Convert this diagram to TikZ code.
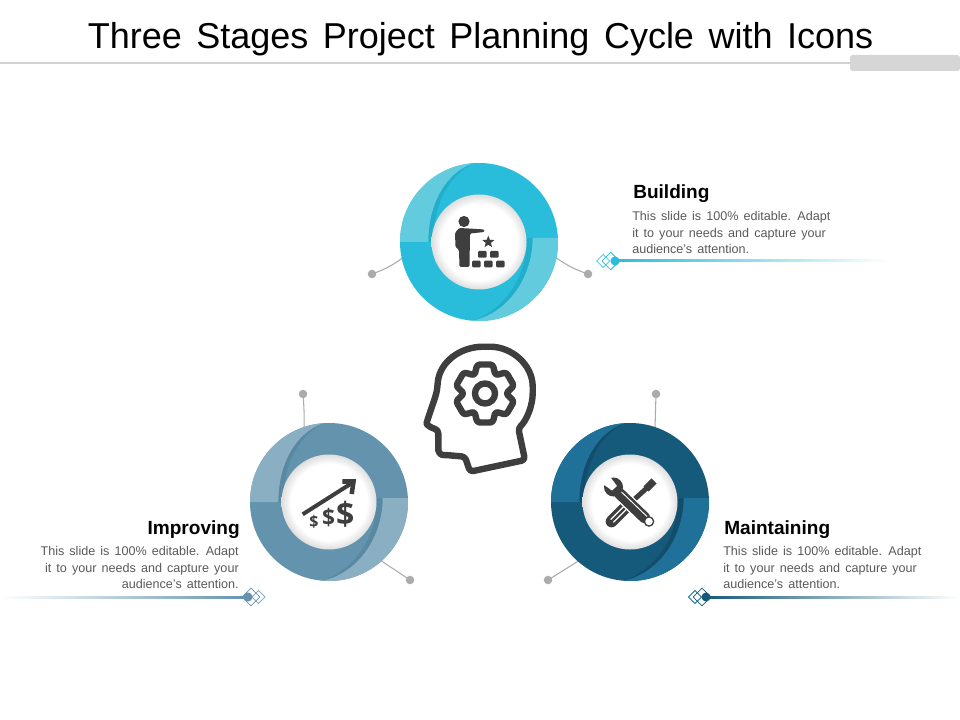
\documentclass[tikz,border=0pt]{standalone}
\usepackage{fontspec}
\setmainfont[WordSpace=1.45]{Liberation Sans}
\newfontfamily\dollarfont{Open Sans}
\usetikzlibrary{shapes.geometric}
\definecolor{buildmain}{RGB}{41,189,219}
\definecolor{buildlight}{RGB}{98,203,222}
\definecolor{buildshade}{RGB}{34,174,203}
\definecolor{improvemain}{RGB}{99,147,173}
\definecolor{improvelight}{RGB}{138,174,194}
\definecolor{improveshade}{RGB}{88,136,162}
\definecolor{maintainmain}{RGB}{22,90,123}
\definecolor{maintainlight}{RGB}{31,113,153}
\definecolor{maintainshade}{RGB}{18,78,108}
\definecolor{icongrey}{RGB}{62,62,62}
\definecolor{dotgrey}{RGB}{171,171,171}
\definecolor{bodygrey}{RGB}{89,89,89}
\pgfdeclareradialshading{hubshade}{\pgfpoint{0bp}{0bp}}{color(0bp)=(white); color(20bp)=(white); color(25bp)=(black!13); color(50bp)=(black!13)}
\tikzset{
  stagedot/.style={circle,fill=dotgrey,inner sep=0pt,minimum size=6.4pt},
  stageline/.style={draw=dotgrey,line width=0.8pt},
  stagehead/.style={font=\fontsize{14.3}{17}\selectfont\bfseries,text=black,inner sep=0pt},
  stagebody/.style={font=\fontsize{9.45}{12.2}\selectfont,text=bodygrey,inner sep=0pt},
  tipdiamond/.style={diamond,draw=#1,line width=0.6pt,fill=none,inner sep=0pt,minimum size=13.5pt},
  tipsmall/.style={diamond,draw=#1,line width=0.6pt,fill=none,inner sep=0pt,minimum size=10pt},
  tipdot/.style={circle,fill=#1,inner sep=0pt,minimum size=6.8pt},
  outline/.style={draw=icongrey,line width=4.8pt,line join=round,fill=none},
  brick/.style={fill=icongrey,rounded corners=0.8pt},
  dollar/.style={text=icongrey,inner sep=0pt},
}
\newcommand{\stagering}[3]{%
  \fill[#1] (0,0) circle (79);
  \fill[#3] (-5.7,-78.7) .. controls (-32,-70) and (-50.7,-40) .. (-50.7,0) -- (-46,0) .. controls (-46,-40) and (-28,-68) .. (-5.7,-78.7) -- cycle;
  \fill[#3] (-7,78.7) .. controls (28,72) and (53.7,36) .. (53.7,-4) -- (48,-4) .. controls (48,36) and (25,68) .. (-7,78.7) -- cycle;
  \fill[#2] (-79,0) arc[start angle=180,end angle=265.9,radius=79] .. controls (-32,-70) and (-50.7,-40) .. (-50.7,0) -- cycle;
  \fill[#2] (78.9,-4) arc[start angle=-2.9,end angle=95,radius=79] .. controls (28,72) and (53.7,36) .. (53.7,-4) -- cycle;
  \shade[shading=hubshade] (0,0) circle (47.5);
}
\begin{document}
\begin{tikzpicture}[x=0.75pt,y=0.75pt,yscale=-1,xscale=1]
  \useasboundingbox (0,0) rectangle (960,720);

  %Title
  \node[font=\fontsize{27}{32}\selectfont,text=black,inner sep=0pt,anchor=base] (title) at (480.5,49) {Three Stages Project Planning Cycle with Icons};
  \fill[black!18] (0,62.4) rectangle (852,64);
  \fill[black!16,rounded corners=2pt] (850,55) rectangle (960,71);

  %Leader lines
  \node[stagedot] (builddotl) at (372,274) {};
  \node[stagedot] (builddotr) at (588,274) {};
  \node[stagedot] (improvedott) at (303,394) {};
  \node[stagedot] (improvedotr) at (410,580) {};
  \node[stagedot] (maintaindott) at (656,394) {};
  \node[stagedot] (maintaindotl) at (548,580) {};
  \coordinate (buildendl) at (404,257);
  \coordinate (buildendr) at (555,257);
  \coordinate (improveendt) at (304,428);
  \coordinate (improveendr) at (380,560);
  \coordinate (maintainendt) at (655,428);
  \coordinate (maintainendl) at (580,560);
  \draw[stageline] (builddotl.center) to[bend left=8] (buildendl);
  \draw[stageline] (builddotr.center) to[bend right=8] (buildendr);
  \draw[stageline] (improvedott.center) to[bend right=3] (improveendt);
  \draw[stageline] (improvedotr.center) to (improveendr);
  \draw[stageline] (maintaindott.center) to (maintainendt);
  \draw[stageline] (maintaindotl.center) to (maintainendl);

  %Rings
  \begin{scope}[shift={(479,242)}]
    \stagering{buildmain}{buildlight}{buildshade}
  \end{scope}
  \begin{scope}[shift={(329,502)}]
    \stagering{improvemain}{improvelight}{improveshade}
  \end{scope}
  \begin{scope}[shift={(630,502)}]
    \stagering{maintainmain}{maintainlight}{maintainshade}
  \end{scope}

  %Building icon
  \fill[icongrey] (464,221.5) circle (5.6);
  \fill[icongrey,rounded corners=1pt] (459,228) -- (469,228.5) -- (484.5,229.5) -- (484.5,232) -- (470,233.5) -- (469.5,267) -- (459.5,267) -- (459,250) -- (455.5,247) -- (455,233) -- cycle;
  \fill[brick] (472,260.7) rectangle (480.7,267.3);
  \fill[brick] (484,260.7) rectangle (492.7,267.3);
  \fill[brick] (496,260.7) rectangle (504.7,267.3);
  \fill[brick] (478,251) rectangle (486.7,257.7);
  \fill[brick] (490,251) rectangle (498.7,257.7);
  \node[star,star points=5,star point ratio=2.3,fill=icongrey,inner sep=0pt,minimum size=9.5pt] (buildstar) at (488.3,242) {};

  %Improving icon
  \draw[icongrey,line width=3pt] (302.7,514.3) -- (352,483);
  \draw[icongrey,line width=3.4pt,line join=miter] (342.3,481.5) -- (353.5,481.5) -- (351.7,494);
  \node[dollar,font=\dollarfont\fontsize{12}{14}\selectfont\bfseries] (dollarsmall) at (314,521.5) {\$};
  \node[dollar,font=\dollarfont\fontsize{17}{19}\selectfont\bfseries] (dollarmid) at (328.5,517.5) {\$};
  \node[dollar,font=\dollarfont\fontsize{24}{26}\selectfont\bfseries] (dollarbig) at (345.3,514) {\$};

  %Maintaining icon
  \draw[icongrey,line width=8.8pt,line cap=round] (611.5,521.5) -- (627,506);
  \draw[white,line width=0.9pt] (613.4,522.4) -- (626.4,509.4);
  \draw[white,line width=0.9pt] (610.6,519.6) -- (623.6,506.6);
  \draw[icongrey,line width=3.7pt] (627,506) -- (648,487);
  \draw[icongrey,line width=5.4pt] (646,489) -- (654,481);
  \draw[white,line width=10.4pt] (622,496) -- (647,520);
  \draw[icongrey,line width=8.4pt,line cap=round] (619,493) -- (645,518);
  \draw[white,line width=0.7pt] (621,491.5) -- (647,516.5);
  \fill[icongrey] (613.5,487) circle (9.5);
  \fill[white] (608,474) -- (617,486) -- (612,490.5) -- (600,482) -- cycle;
  \draw[icongrey,line width=1pt,fill=white] (649,521.5) circle (4.6);

  %Head with gear
  \draw[outline,rounded corners=2.5pt] (525,460) -- (518.3,428.3) .. controls (527,420) and (532.7,405) .. (532.7,390) .. controls (532.7,365) and (512,346.7) .. (486.7,346.7) .. controls (460,346.7) and (440,362) .. (437.5,385) .. controls (436.5,395) and (433,403) .. (427.5,420) .. controls (426,425) and (432,428) .. (438.3,430) -- (438.3,446.7) .. controls (438.3,452) and (441,455) .. (446,455) -- (465,456.7) -- (470,471.7) -- cycle;
  \begin{scope}[shift={(485,393.5)}]
    \draw[outline,rounded corners=2pt] (75:30) -- (105:30) -- (120:21) -- (135:30) -- (165:30) -- (180:21) -- (195:30) -- (225:30) -- (240:21) -- (255:30) -- (285:30) -- (300:21) -- (315:30) -- (345:30) -- (0:21) -- (15:30) -- (45:30) -- (60:21) -- cycle;
    \draw[outline] (0,0) circle (10);
  \end{scope}

  %Building text
  \node[stagehead,anchor=base west] (buildhead) at (633,199) {Building};
  \node[stagebody,anchor=north west,align=left] (buildbody) at (632,211.5) {This slide is 100\% editable. Adapt\\it to your needs and capture your\\audience's attention.};
  \shade[left color=buildmain,right color=white] (615,260) rectangle (890,262);
  \node[tipsmall=buildlight] (builddiaa) at (603.3,261) {};
  \node[tipdiamond=buildmain] (builddiab) at (610.7,261) {};
  \node[tipdot=buildmain] (buildtip) at (615,261) {};

  %Improving text
  \node[stagehead,anchor=base east] (improvehead) at (240,534) {Improving};
  \node[stagebody,anchor=north east,align=right] (improvebody) at (239,546.5) {This slide is 100\% editable. Adapt\\it to your needs and capture your\\audience's attention.};
  \shade[left color=white,right color=improvemain] (0,596) rectangle (250,598);
  \node[tipsmall=improvelight] (improvediaa) at (258.5,597) {};
  \node[tipdiamond=improvemain] (improvediab) at (251,597) {};
  \node[tipdot=improvemain] (improvetip) at (248,597) {};

  %Maintaining text
  \node[stagehead,anchor=base west] (maintainhead) at (724,534) {Maintaining};
  \node[stagebody,anchor=north west,align=left] (maintainbody) at (723,546.5) {This slide is 100\% editable. Adapt\\it to your needs and capture your\\audience's attention.};
  \shade[left color=maintainmain,right color=white] (705,596) rectangle (960,598);
  \node[tipsmall=maintainlight] (maintaindiaa) at (695,597) {};
  \node[tipdiamond=maintainmain] (maintaindiab) at (702,597) {};
  \node[tipdot=maintainmain] (maintaintip) at (706,597) {};
\end{tikzpicture}
\end{document}
